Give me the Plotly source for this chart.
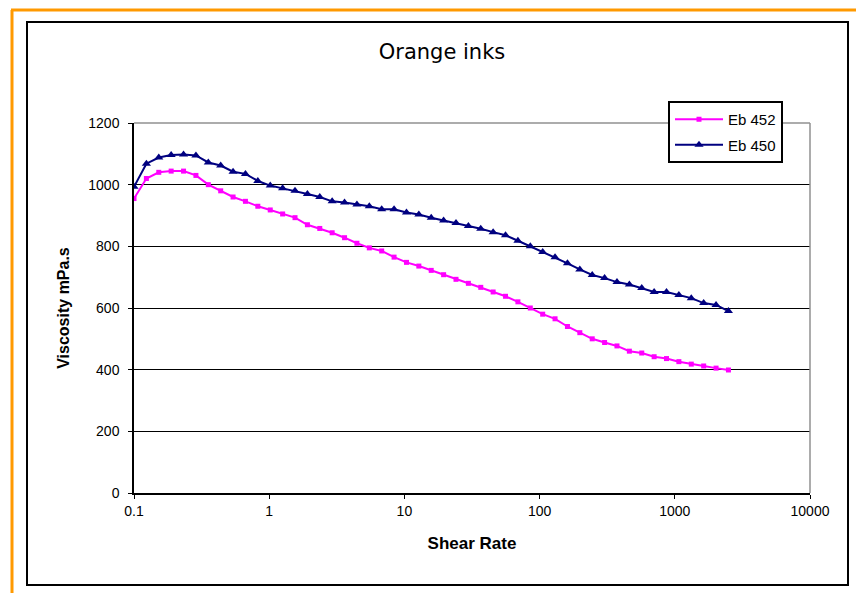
import plotly.graph_objects as go

shear_rate = [0.1, 0.1235, 0.1525, 0.1883, 0.2325, 0.2871, 0.3545, 0.4377, 0.5405, 0.6674,
              0.8241, 1.018, 1.257, 1.552, 1.917, 2.366, 2.922, 3.608, 4.455, 5.501,
              6.792, 8.387, 10.36, 12.79, 15.79, 19.50, 24.08, 29.73, 36.71, 45.33,
              55.98, 69.12, 85.35, 105.4, 130.1, 160.7, 198.4, 245.0, 302.5, 373.5,
              461.3, 569.6, 703.3, 868.4, 1072, 1324, 1635, 2019, 2493]

eb452 = [955, 1020, 1040, 1044, 1044, 1030, 1000, 980, 960, 946,
         930, 918, 905, 893, 870, 858, 844, 828, 810, 795,
         785, 765, 748, 736, 722, 708, 693, 680, 667, 652,
         638, 620, 600, 580, 565, 540, 520, 500, 488, 477,
         460, 454, 442, 436, 426, 418, 412, 405, 399]

eb450 = [993, 1068, 1088, 1096, 1098, 1095, 1072, 1062, 1042, 1035,
         1012, 997, 988, 980, 970, 960, 946, 942, 936, 930,
         920, 920, 910, 903, 893, 884, 876, 866, 857, 846,
         836, 818, 800, 782, 765, 745, 725, 707, 697, 684,
         676, 665, 652, 652, 642, 632, 616, 610, 590]

x_tickvals = [0.1, 1, 10, 100, 1000, 10000]
x_ticktext = ["0.1", "1", "10", "100", "1000", "10000"]
y_tickvals = [0, 200, 400, 600, 800, 1000, 1200]

fig = go.Figure()
fig.add_trace(go.Scatter(
    x=shear_rate, y=eb452, name="Eb 452", mode="lines+markers", legendgroup="a",
    line=dict(color="#FF00FF", width=2),
    marker=dict(symbol="square", size=5, color="#FF00FF"),
))
fig.add_trace(go.Scatter(
    x=shear_rate, y=eb450, name="Eb 450", mode="lines+markers", legendgroup="b",
    line=dict(color="#000080", width=2),
    marker=dict(symbol="triangle-up", size=8, color="#000080"),
))

font_main = "Liberation Sans, Arial, sans-serif"

fig.update_layout(
    width=856, height=593,
    margin=dict(l=134, r=46, t=123, b=100),
    paper_bgcolor="white", plot_bgcolor="white",
    showlegend=True,
    title=dict(text="Orange inks", x=(442 - 134) / 676, xref="paper", xanchor="center",
               y=1 - 52 / 593, yanchor="middle",
               font=dict(family="DejaVu Sans, Verdana, sans-serif", size=21, color="black")),
    legend=dict(x=(668 - 134) / 676, y=(493 - 101) / 370, xanchor="left", yanchor="top",
                bgcolor="white", bordercolor="black", borderwidth=2,
                font=dict(family=font_main, size=15, color="black"),
                itemwidth=48, tracegroupgap=3, traceorder="grouped"),
    xaxis=dict(type="log", range=[-1, 4], tickvals=x_tickvals, ticktext=x_ticktext,
               showgrid=False, zeroline=False, showline=True, linecolor="black", linewidth=1.5,
               ticks="outside", ticklen=4, tickcolor="black",
               tickfont=dict(family=font_main, size=14, color="black"),
               title=dict(text="<b>Shear Rate</b>", font=dict(family=font_main, size=17, color="black"),
                          standoff=20)),
    yaxis=dict(range=[0, 1200], tickvals=y_tickvals,
               showgrid=True, gridcolor="black", gridwidth=1.2, zeroline=False,
               showline=True, linecolor="black", linewidth=1.5,
               ticks="outside", ticklen=4, tickcolor="black", ticklabelstandoff=6,
               tickfont=dict(family=font_main, size=14, color="black"),
               title=dict(text="<b>Viscosity mPa.s</b>", font=dict(family=font_main, size=16, color="black"),
                          standoff=15)),
)

def px_x(p):
    return (p - 134) / 676

def px_y(p):
    return (493 - p) / 370

shapes = [
    # chart frame
    dict(type="rect", xref="paper", yref="paper", x0=px_x(27), x1=px_x(848), y0=px_y(585), y1=px_y(22),
         line=dict(color="black", width=2), layer="below"),
    # orange border
    dict(type="line", xref="paper", yref="paper", x0=px_x(11), x1=px_x(860), y0=px_y(10), y1=px_y(10),
         line=dict(color="#FF9900", width=3)),
    dict(type="line", xref="paper", yref="paper", x0=px_x(12), x1=px_x(12), y0=px_y(10), y1=px_y(600),
         line=dict(color="#FF9900", width=3)),
    # plot area gray top & right border
    dict(type="line", xref="paper", yref="paper", x0=0, x1=1, y0=1, y1=1,
         line=dict(color="#909090", width=1.5), layer="above"),
    dict(type="line", xref="paper", yref="paper", x0=1, x1=1, y0=0, y1=1,
         line=dict(color="#909090", width=1.5), layer="above"),
]
fig.update_layout(shapes=shapes)

fig.write_html("out.html")
